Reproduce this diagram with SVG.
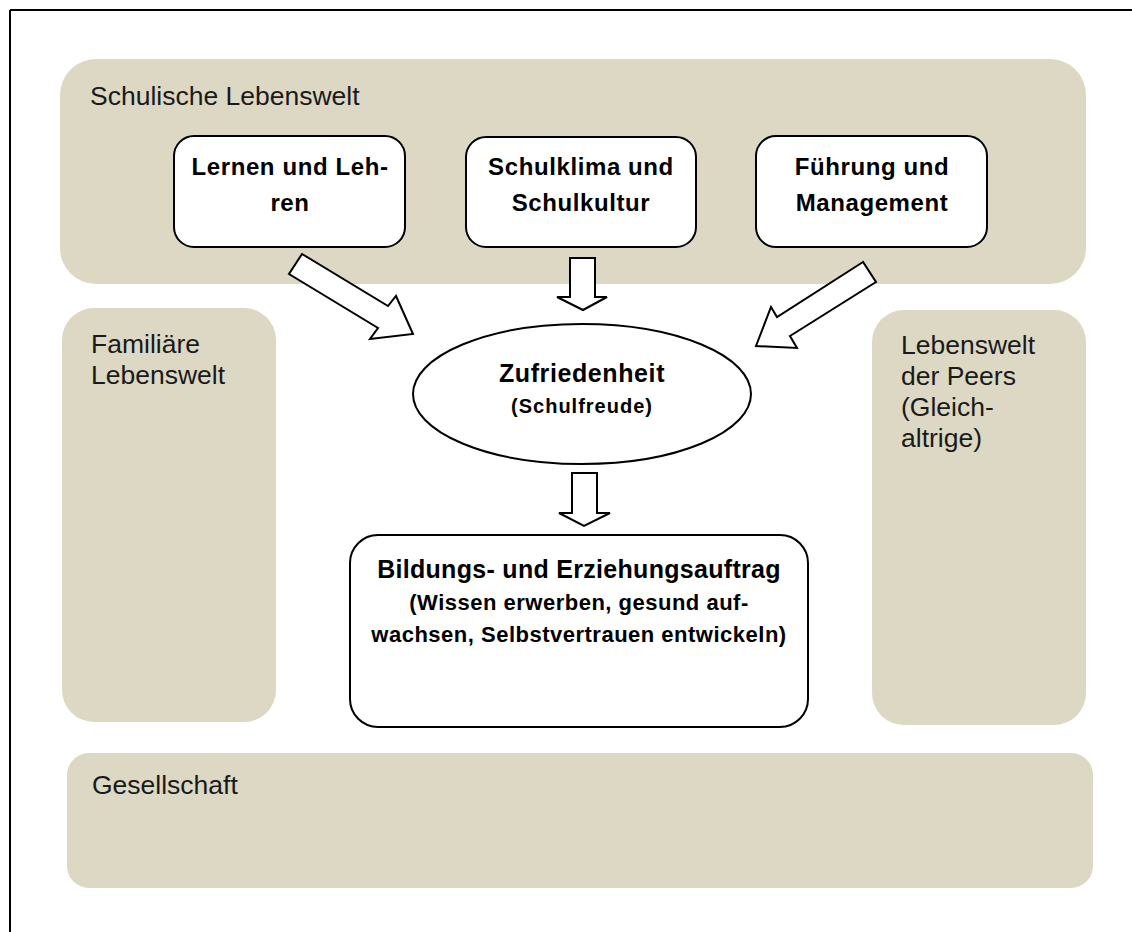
<svg xmlns="http://www.w3.org/2000/svg" width="1132" height="932" viewBox="0 0 1132 932">
  <style>
    .panel { fill: #dcd8c3; }
    .box { fill: #ffffff; stroke: #000000; stroke-width: 2; }
    .arrow { fill: #ffffff; stroke: #000000; stroke-width: 2; stroke-linejoin: miter; }
    .lbl { font-family: "Liberation Sans", Arial, sans-serif; font-size: 26.5px; fill: #1a1a1a; }
    .head { font-family: "Liberation Sans", Arial, sans-serif; font-weight: bold; font-size: 24px; letter-spacing: 0.6px; fill: #000000; text-anchor: middle; }
    .sub { font-family: "Liberation Sans", Arial, sans-serif; font-weight: bold; font-size: 22px; letter-spacing: 0.5px; fill: #000000; text-anchor: middle; }
  </style>

  <!-- frame -->
  <g id="frame" stroke="#000000" stroke-width="2" fill="none">
    <line x1="10" y1="10" x2="1132" y2="10"/>
    <line x1="10" y1="10" x2="10" y2="932"/>
  </g>

  <!-- surrounding life worlds -->
  <g id="schulische-lebenswelt">
    <rect class="panel" x="60" y="59" width="1026" height="225" rx="36" ry="36"/>
    <text class="lbl" x="90" y="105">Schulische Lebenswelt</text>
  </g>
  <g id="familiaere-lebenswelt">
    <rect class="panel" x="62" y="308" width="214" height="414" rx="32" ry="32"/>
    <text class="lbl" x="91" y="353">Familiäre</text>
    <text class="lbl" x="91" y="384">Lebenswelt</text>
  </g>
  <g id="peers">
    <rect class="panel" x="872" y="310" width="214" height="415" rx="32" ry="32"/>
    <text class="lbl" x="901" y="354">Lebenswelt</text>
    <text class="lbl" x="901" y="385">der Peers</text>
    <text class="lbl" x="901" y="416">(Gleich-</text>
    <text class="lbl" x="901" y="447">altrige)</text>
  </g>
  <g id="gesellschaft">
    <rect class="panel" x="67" y="753" width="1026" height="135" rx="22" ry="22"/>
    <text class="lbl" x="92" y="794">Gesellschaft</text>
  </g>

  <!-- school quality areas -->
  <g id="lernen-lehren">
    <rect class="box" x="174" y="136" width="231" height="111" rx="20" ry="20"/>
    <text class="head" x="290" y="175">Lernen und Leh-</text>
    <text class="head" x="290" y="211">ren</text>
  </g>
  <g id="schulklima">
    <rect class="box" x="466" y="137" width="230" height="110" rx="20" ry="20"/>
    <text class="head" x="581" y="175">Schulklima und</text>
    <text class="head" x="581" y="211">Schulkultur</text>
  </g>
  <g id="fuehrung">
    <rect class="box" x="756" y="136" width="231" height="111" rx="20" ry="20"/>
    <text class="head" x="872" y="175">Führung und</text>
    <text class="head" x="872" y="211">Management</text>
  </g>

  <!-- satisfaction -->
  <g id="zufriedenheit">
    <ellipse class="box" cx="582" cy="394" rx="169" ry="70"/>
    <text class="head" x="582" y="382" style="font-size:25px">Zufriedenheit</text>
    <text class="sub" x="582" y="413" style="font-size:20px;letter-spacing:1px">(Schulfreude)</text>
  </g>

  <!-- educational mandate -->
  <g id="bildungsauftrag">
    <rect class="box" x="350" y="535" width="458" height="192" rx="28" ry="28"/>
    <text class="head" x="579" y="578" style="font-size:25px;letter-spacing:0.3px">Bildungs- und Erziehungsauftrag</text>
    <text class="sub" x="579" y="610">(Wissen erwerben, gesund auf-</text>
    <text class="sub" x="579" y="642">wachsen, Selbstvertrauen entwickeln)</text>
  </g>

  <!-- block arrows -->
  <g id="connectors">
    <polygon class="arrow" points="302,254 388,306 396,296 413,334 370,339 378,328 289,274"/>
    <polygon class="arrow" points="570,258 595,258 595,297 607,297 583,310 557,297 570,297"/>
    <polygon class="arrow" points="863,262 777,317 771,307 756,346 797,348 790,336 876,282"/>
    <polygon class="arrow" points="572,473 597,473 597,513 610,513 584,526 559,513 572,513"/>
  </g>
</svg>
